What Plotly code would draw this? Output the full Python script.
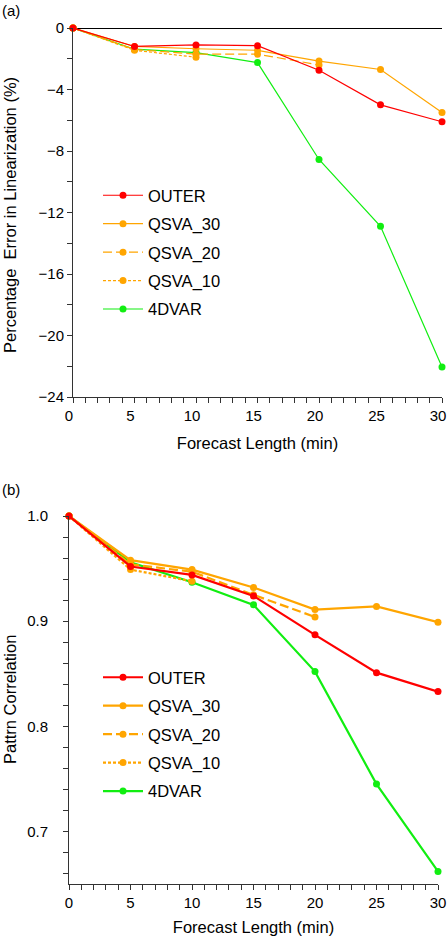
import plotly.graph_objects as go

# forecast lengths (min)
lead = [0, 5, 10, 15, 20, 25, 30]

# (a) percentage error in linearization (%)
err_outer = [0, -1.2, -1.1, -1.15, -2.75, -5.0, -6.1]
err_qsva30 = [0, -1.2, -1.35, -1.45, -2.15, -2.7, -5.5]
err_qsva20 = [0, -1.4, -1.7, -1.7, -2.4]
err_qsva10 = [0, -1.45, -1.9]
err_4dvar = [0, -1.38, -1.6, -2.25, -8.55, -12.9, -22.05]

# (b) pattern correlation
cor_outer = [1.0, 0.952, 0.944, 0.924, 0.887, 0.851, 0.833]
cor_qsva30 = [1.0, 0.958, 0.949, 0.932, 0.911, 0.914, 0.899]
cor_qsva20 = [1.0, 0.954, 0.947, 0.925, 0.904]
cor_qsva10 = [1.0, 0.949, 0.938]
cor_4dvar = [1.0, 0.956, 0.937, 0.9155, 0.852, 0.745, 0.662]

x_ticks = [0, 5, 10, 15, 20, 25, 30]

RED = "#ff0000"
ORANGE = "#ffa500"
GREEN = "#11ee11"
FONT = "Liberation Sans"
W, H = 447, 941

# name, colour, dash, legend rank (drawn back to front)
styles = [
    ("4DVAR", GREEN, "solid", 5),
    ("QSVA_10", ORANGE, "3px,2px", 4),
    ("QSVA_20", ORANGE, "9px,4px", 3),
    ("QSVA_30", ORANGE, "solid", 2),
    ("OUTER", RED, "solid", 1),
]

top_data = {"OUTER": err_outer, "QSVA_30": err_qsva30, "QSVA_20": err_qsva20,
            "QSVA_10": err_qsva10, "4DVAR": err_4dvar}
bot_data = {"OUTER": cor_outer, "QSVA_30": cor_qsva30, "QSVA_20": cor_qsva20,
            "QSVA_10": cor_qsva10, "4DVAR": cor_4dvar}

fig = go.Figure()

for name, color, dash, rank in styles:
    ys = top_data[name]
    fig.add_trace(go.Scatter(
        x=lead[:len(ys)], y=ys, mode="lines+markers", name=name,
        line=dict(color=color, width=1.2, dash=dash),
        marker=dict(color=color, size=7),
        xaxis="x", yaxis="y", legend="legend", legendrank=rank,
        legendgroup="a" + name, cliponaxis=False,
    ))

for name, color, dash, rank in styles:
    ys = bot_data[name]
    fig.add_trace(go.Scatter(
        x=lead[:len(ys)], y=ys, mode="lines+markers", name=name,
        line=dict(color=color, width=2.2, dash=dash),
        marker=dict(color=color, size=7),
        xaxis="x2", yaxis="y2", legend="legend2", legendrank=rank,
        legendgroup="b" + name, cliponaxis=False,
    ))


def px_x(p):
    return p / W


def px_y(p):
    return 1 - p / H


axis_common = dict(
    showline=True, linecolor="#333", linewidth=1, showgrid=False,
    ticks="outside", ticklen=5, tickcolor="#333", tickwidth=1,
    tickfont=dict(family=FONT, size=15, color="black"),
    title_font=dict(family=FONT, size=16.5, color="black"),
    automargin=False, ticklabeloverflow="allow",
)

fig.update_layout(
    width=W, height=H,
    margin=dict(l=0, r=0, t=0, b=0, autoexpand=False),
    paper_bgcolor="white", plot_bgcolor="white",
    font=dict(family=FONT, size=15, color="black"),
    xaxis=dict(
        axis_common, domain=[px_x(73), px_x(442)], range=[0, 30],
        tickvals=x_ticks, anchor="y", zeroline=False, ticklabelshift=-4,
        minor=dict(dtick=1, ticks="outside", ticklen=5, tickcolor="#333"),
        title_text="Forecast Length (min)", title_standoff=14,
    ),
    yaxis=dict(
        axis_common, domain=[px_y(397), px_y(28)], range=[-24, 0],
        dtick=4, anchor="x", zeroline=True, zerolinecolor="black",
        zerolinewidth=1,
        minor=dict(dtick=2, ticks="outside", ticklen=5, tickcolor="#333"),
    ),
    xaxis2=dict(
        axis_common, domain=[px_x(69), px_x(438)], range=[0, 30],
        tickvals=x_ticks, anchor="y2", zeroline=False,
        minor=dict(dtick=1, ticks="outside", ticklen=5, tickcolor="#333"),
        title_text="Forecast Length (min)", title_standoff=11,
    ),
    yaxis2=dict(
        axis_common, domain=[px_y(884), px_y(516)], range=[0.65, 1.0],
        tick0=0.7, dtick=0.1, tickformat=".1f", anchor="x2", zeroline=False,
        ticklabelstandoff=12,
        minor=dict(dtick=0.02, ticks="outside", ticklen=5, tickcolor="#333"),
    ),
    legend=dict(
        x=px_x(98), y=px_y(178), xanchor="left", yanchor="top",
        font=dict(family=FONT, size=16.5), tracegroupgap=4,
        bgcolor="rgba(0,0,0,0)", itemwidth=40,
    ),
    legend2=dict(
        x=px_x(98), y=px_y(660), xanchor="left", yanchor="top",
        font=dict(family=FONT, size=16.5), tracegroupgap=4,
        bgcolor="rgba(0,0,0,0)", itemwidth=40,
    ),
    annotations=[
        dict(text="(a)", x=0, y=1, xref="paper", yref="paper",
             xanchor="left", yanchor="top", showarrow=False,
             font=dict(family=FONT, size=15)),
        dict(text="(b)", x=0, y=px_y(479), xref="paper", yref="paper",
             xanchor="left", yanchor="top", showarrow=False,
             font=dict(family=FONT, size=15)),
        # y-axis titles
        dict(text="Percentage  Error in Linearization (%)", textangle=-90,
             x=px_x(10), y=px_y(215), xref="paper", yref="paper",
             xanchor="center", yanchor="middle", showarrow=False,
             font=dict(family=FONT, size=16.5)),
        dict(text="Pattrn Correlation", textangle=-90,
             x=px_x(10), y=px_y(700), xref="paper", yref="paper",
             xanchor="center", yanchor="middle", showarrow=False,
             font=dict(family=FONT, size=16.5)),
    ],
)

# drop the browser's default 8px body margin so the figure fills the window
fig.write_html("out.html", config={"displayModeBar": False},
               post_script="document.body.style.margin = '0';")
